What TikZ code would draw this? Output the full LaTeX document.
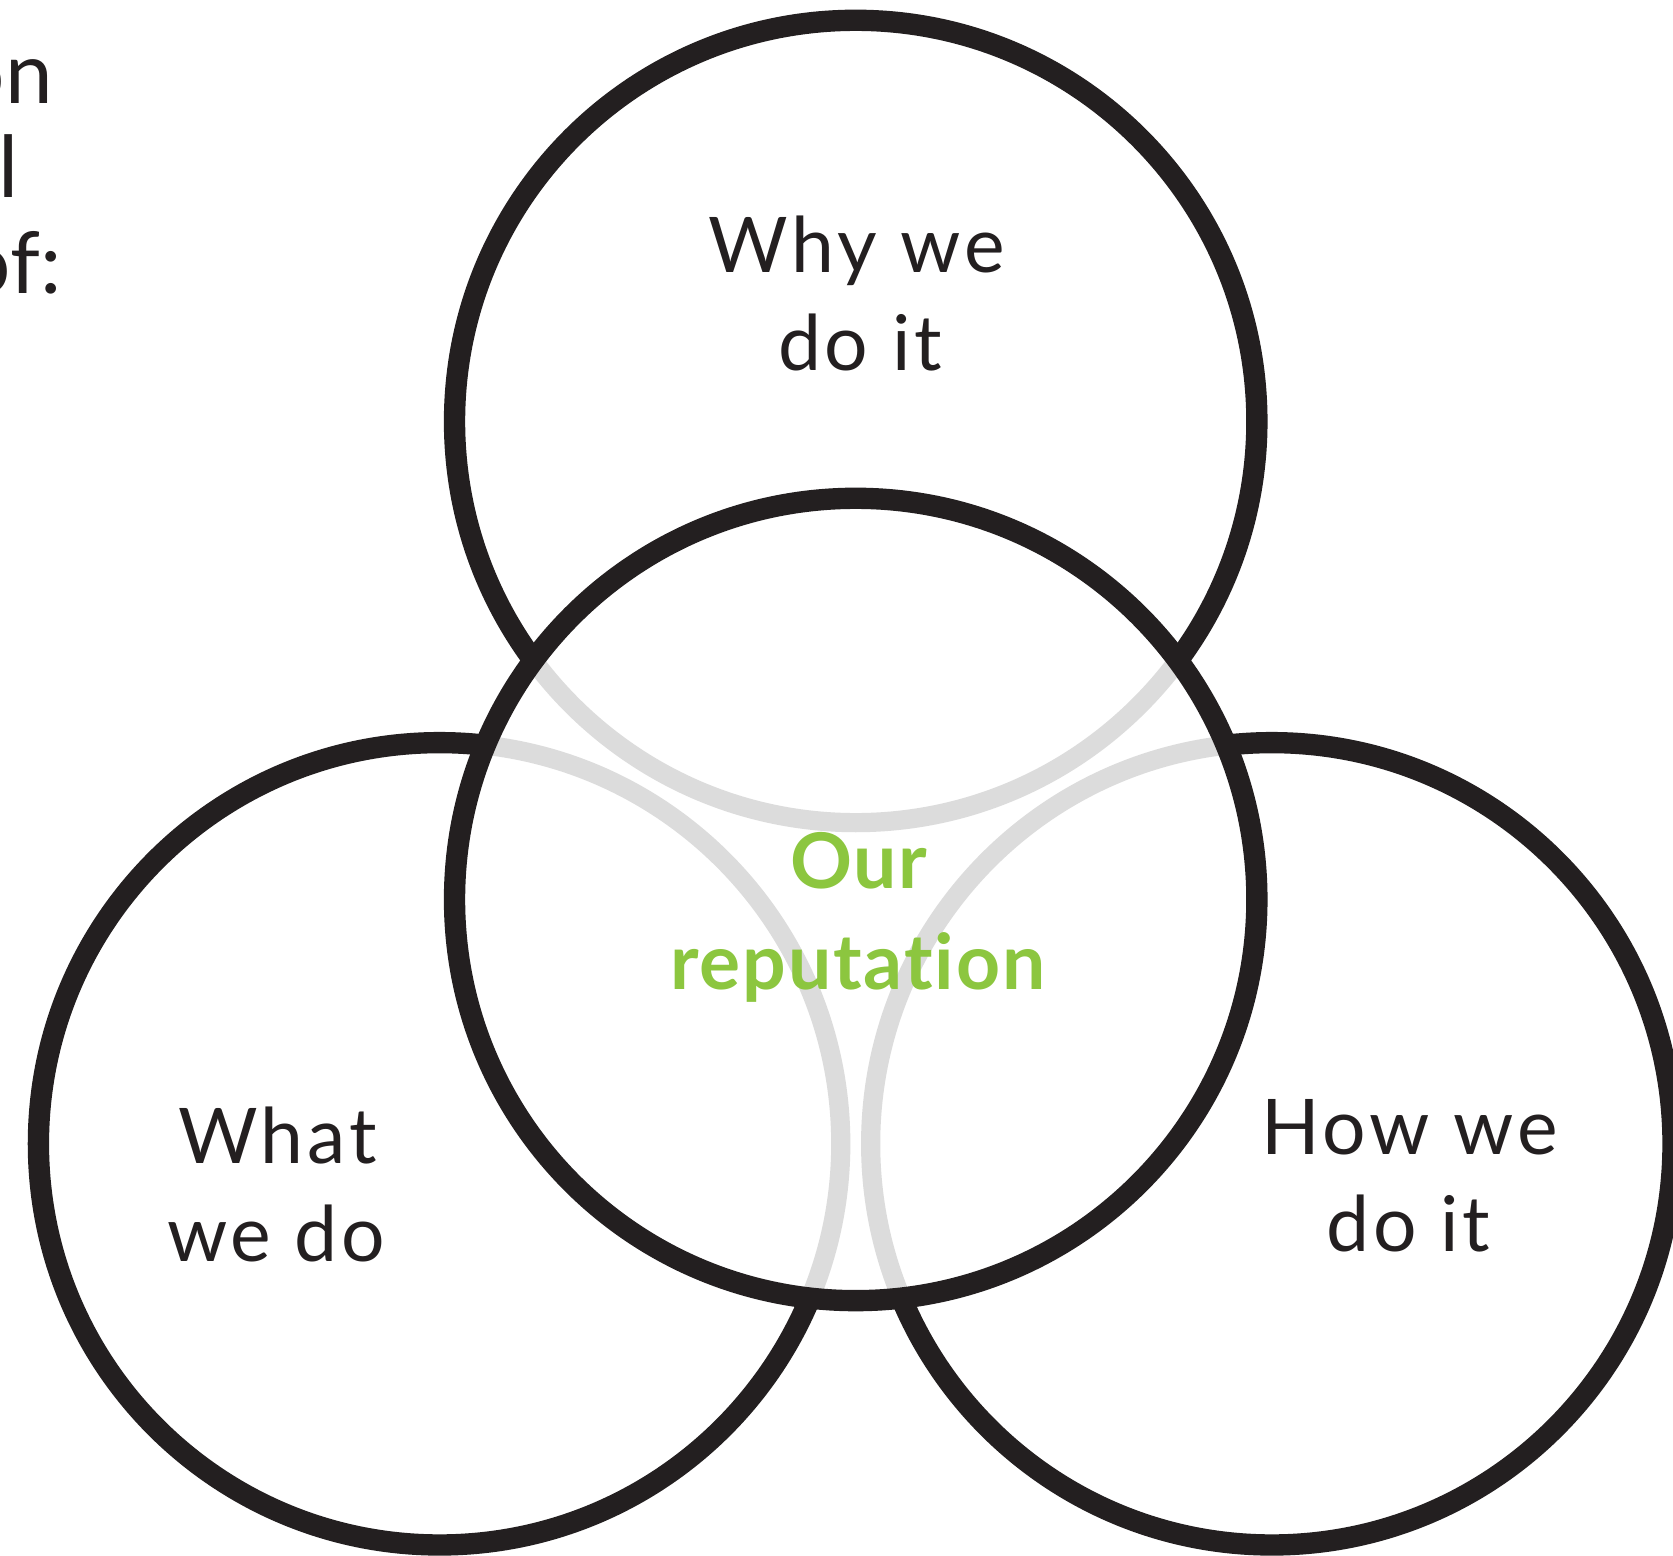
\documentclass[tikz,border=0pt]{standalone}
\usepackage{fontspec}
\setmainfont{Lato}[Ligatures=NoCommon]
\definecolor{ink}{HTML}{231F20}
\definecolor{lightgray}{HTML}{DCDCDC}
\definecolor{leaf}{HTML}{8CC63F}
\tikzset{
  ring/.style={draw=ink, line width=10pt},
  innerring/.style={draw=lightgray, line width=9pt},
  lbl/.style={inner sep=0pt, anchor=base, text=ink, font=\fontsize{36}{46}\selectfont\addfontfeatures{LetterSpace=5}},
  hilite/.style={inner sep=0pt, anchor=base, text=leaf, font=\fontsize{36}{46}\selectfont\bfseries\addfontfeatures{LetterSpace=2.5}},
  cut/.style={inner sep=0pt, anchor=base east, text=ink, font=\fontsize{40}{46}\selectfont}
}
\begin{document}
\begin{tikzpicture}[x=0.5pt, y=-0.5pt]
  \useasboundingbox (0,0) rectangle (1568,1458);
  \fill[white] (0,0) rectangle (1568,1458);
  \coordinate (cc) at (802,843);
  \coordinate (ct) at (802,395);
  \coordinate (cl) at (412,1072);
  \coordinate (cr) at (1192,1072);
  % outer circles
  \draw[ring] (ct) circle[radius=188pt];
  \draw[ring] (cl) circle[radius=188pt];
  \draw[ring] (cr) circle[radius=188pt];
  % blank central area
  \fill[white] (cc) circle[radius=188pt];
  \begin{scope}
    \clip (cc) circle[radius=188pt];
    \draw[innerring] (ct) circle[radius=188pt];
    \draw[innerring] (cl) circle[radius=188pt];
    \draw[innerring] (cr) circle[radius=188pt];
  \end{scope}
  \draw[ring] (cc) circle[radius=188pt];
  % labels
  \node[lbl] (why1) at (803,255) {Why we};
  \node[lbl] (why2) at (806,347) {do it};
  \node[lbl] (what1) at (260,1090) {What};
  \node[lbl] (what2) at (259,1182) {we do};
  \node[lbl] (how1) at (1321,1082) {How we};
  \node[lbl] (how2) at (1320,1173) {do it};
  \node[hilite] (our1) at (805,833) {Our};
  \node[hilite] (our2) at (804,927) {reputation};
  % cut-off text at left edge
  \node[cut] (cut1) at (50,97) {on};
  \node[cut] (cut2) at (18,185) {l};
  \node[cut] (cut3) at (58,275) {of:};
\end{tikzpicture}
\end{document}
